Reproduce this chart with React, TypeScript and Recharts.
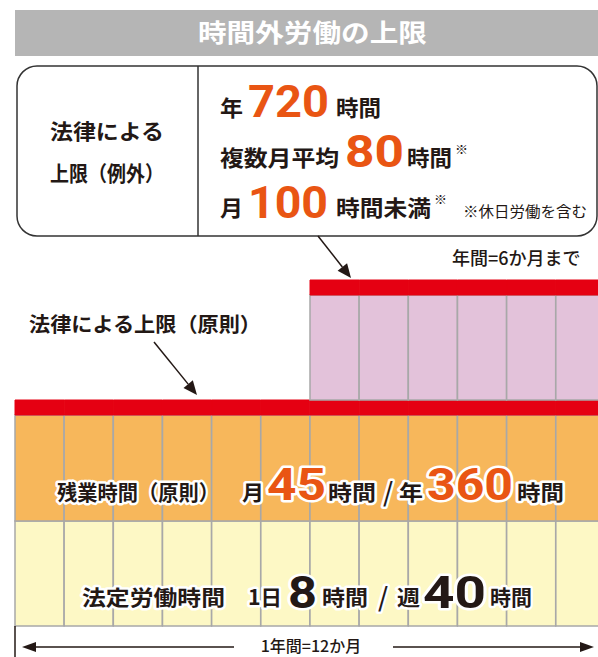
import React from 'react'
import { BarChart, Bar, XAxis, YAxis } from 'recharts'

// 12 months, stacked band heights (schematic units)
const months = ['1月', '2月', '3月', '4月', '5月', '6月', '7月', '8月', '9月', '10月', '11月', '12月']
const legalHours = [105, 105, 105, 105, 105, 105, 105, 105, 105, 105, 105, 105]
const overtimeHours = [106, 106, 106, 106, 106, 106, 106, 106, 106, 106, 106, 106]
const principleCap = [15, 15, 15, 15, 15, 15, 15, 15, 15, 15, 15, 15]
const exceptionHours = [0, 0, 0, 0, 0, 0, 105, 105, 105, 105, 105, 105]
const exceptionCap = [0, 0, 0, 0, 0, 0, 15, 15, 15, 15, 15, 15]

const data = months.map((m, i) => ({
  month: m,
  legal: legalHours[i],
  overtime: overtimeHours[i],
  cap: principleCap[i],
  exception: exceptionHours[i],
  exCap: exceptionCap[i],
}))

const JP = '"Noto Sans CJK JP", "Noto Sans", sans-serif'
const NUM = 'Roboto, "Noto Sans", sans-serif'
const DARK = '#231815'
const ORANGE = '#e95513'
const RED = '#e50012'
const GRID = '#a8a8a8'

type TProps = {
  x: number
  y: number
  size: number
  w?: number
  fill?: string
  halo?: boolean
  family?: string
  weight?: number
  anchor?: 'start' | 'middle' | 'end'
  children: React.ReactNode
}

function T({ x, y, size, w, fill = DARK, halo, family = JP, weight = 700, anchor = 'start', children }: TProps) {
  return (
    <text
      x={x}
      y={y}
      fontSize={size}
      fontFamily={family}
      fontWeight={weight}
      fill={fill}
      textAnchor={anchor}
      textLength={w}
      lengthAdjust={w ? 'spacingAndGlyphs' : undefined}
      stroke={halo ? '#fff' : undefined}
      strokeWidth={halo ? 5 : undefined}
      strokeLinejoin="round"
      style={{ paintOrder: 'stroke' }}
    >
      {children}
    </text>
  )
}

function Arrow({ x1, y1, x2, y2 }: { x1: number; y1: number; x2: number; y2: number }) {
  const a = Math.atan2(y2 - y1, x2 - x1)
  const L = 14
  const W = 6
  const bx = x2 - L * Math.cos(a)
  const by = y2 - L * Math.sin(a)
  const px = -Math.sin(a) * W
  const py = Math.cos(a) * W
  return (
    <g>
      <line x1={x1} y1={y1} x2={bx} y2={by} stroke={DARK} strokeWidth={1.5} />
      <polygon points={`${x2},${y2} ${bx + px},${by + py} ${bx - px},${by - py}`} fill={DARK} />
    </g>
  )
}

function Overlay() {
  return (
    <svg width={598} height={657} style={{ position: 'absolute', left: 0, top: 0, pointerEvents: 'none' }}>
      {/* title */}
      <rect x={15} y={10} width={590} height={46} fill="#b5b5b5" />
      <T x={198} y={42} size={25} w={229} fill="#fff">時間外労働の上限</T>

      {/* exception box */}
      <rect x={17} y={66} width={580} height={170} rx={20} fill="#fff" stroke="#333" strokeWidth={1.5} />
      <line x1={198} y1={66} x2={198} y2={236} stroke="#333" strokeWidth={1.5} />
      <T x={50} y={139} size={21} w={114}>法律による</T>
      <T x={50} y={181} size={21} w={114}>上限（例外）</T>

      <T x={220} y={116} size={22} w={23}>年</T>
      <T x={248} y={117} size={44} w={81} family={NUM} fill={ORANGE}>720</T>
      <T x={336} y={116} size={22} w={45}>時間</T>

      <T x={220} y={166} size={22} w={119}>複数月平均</T>
      <T x={345} y={167} size={44} w={59} family={NUM} fill={ORANGE}>80</T>
      <T x={407} y={166} size={22} w={45}>時間</T>
      <T x={455} y={154} size={13} weight={400}>※</T>

      <T x={220} y={216} size={22} w={23}>月</T>
      <T x={248} y={218} size={44} w={80} family={NUM} fill={ORANGE}>100</T>
      <T x={336} y={216} size={22} w={95}>時間未満</T>
      <T x={434} y={204} size={13} weight={400}>※</T>
      <T x={463} y={217} size={15} w={124} weight={400}>※休日労働を含む</T>

      {/* annotations */}
      <Arrow x1={318} y1={236} x2={351} y2={278} />
      <T x={452} y={265} size={18} weight={500}>年間=6か月まで</T>
      <T x={29} y={332} size={20} w={232}>法律による上限（原則）</T>
      <Arrow x1={154} y1={342} x2={197} y2={395} />

      {/* row labels */}
      <T x={57} y={500} size={21} w={162} halo>残業時間（原則）</T>
      <T x={242} y={500} size={21} w={22} halo>月</T>
      <T x={267} y={500} size={44} w={59} family={NUM} fill={ORANGE} halo>45</T>
      <T x={328} y={500} size={21} w={48} halo>時間</T>
      <T x={383} y={502} size={26} weight={500} halo>/</T>
      <T x={399} y={500} size={21} w={24} halo>年</T>
      <T x={427} y={500} size={44} w={86} family={NUM} fill={ORANGE} halo>360</T>
      <T x={517} y={500} size={21} w={47} halo>時間</T>

      <T x={82} y={605} size={21} w={143} halo>法定労働時間</T>
      <T x={248} y={605} size={21} w={34} halo>1日</T>
      <T x={288} y={608} size={44} w={29} family={NUM} halo>8</T>
      <T x={322} y={605} size={21} w={46} halo>時間</T>
      <T x={378} y={607} size={26} weight={500} halo>/</T>
      <T x={397} y={605} size={21} w={23} halo>週</T>
      <T x={423} y={608} size={44} w={63} family={NUM} halo>40</T>
      <T x={490} y={605} size={21} w={42} halo>時間</T>

      {/* year span */}
      <line x1={15} y1={626} x2={15} y2={657} stroke={DARK} strokeWidth={1.5} />
      <line x1={30} y1={647} x2={234} y2={647} stroke={DARK} strokeWidth={1.5} />
      <polygon points="22,647 36,642 36,652" fill={DARK} />
      <line x1={393} y1={647} x2={585} y2={647} stroke={DARK} strokeWidth={1.5} />
      <polygon points="594,647 580,642 580,652" fill={DARK} />
      <T x={311} y={652} size={16} weight={500} anchor="middle">1年間=12か月</T>
    </svg>
  )
}

export default function App() {
  return (
    <div style={{ position: 'absolute', left: 0, top: 0, width: 598, height: 657, overflow: 'hidden', background: '#fff' }}>
      <BarChart
        width={610}
        height={657}
        data={data}
        margin={{ top: 280, right: 5, bottom: 31, left: 15 }}
        barCategoryGap={0}
        barGap={0}
      >
        <XAxis dataKey="month" hide />
        <YAxis hide domain={[0, 346]} />
        <Bar dataKey="legal" stackId="a" fill="#fdf8c5" stroke={GRID} strokeWidth={1.5} isAnimationActive={false} />
        <Bar dataKey="overtime" stackId="a" fill="#f7b75b" stroke={GRID} strokeWidth={1.5} isAnimationActive={false} />
        <Bar dataKey="cap" stackId="a" fill={RED} stroke={RED} strokeWidth={1} isAnimationActive={false} />
        <Bar dataKey="exception" stackId="a" fill="#e3c2da" stroke={GRID} strokeWidth={1.5} isAnimationActive={false} />
        <Bar dataKey="exCap" stackId="a" fill={RED} stroke={RED} strokeWidth={1} isAnimationActive={false} />
      </BarChart>
      <Overlay />
    </div>
  )
}
